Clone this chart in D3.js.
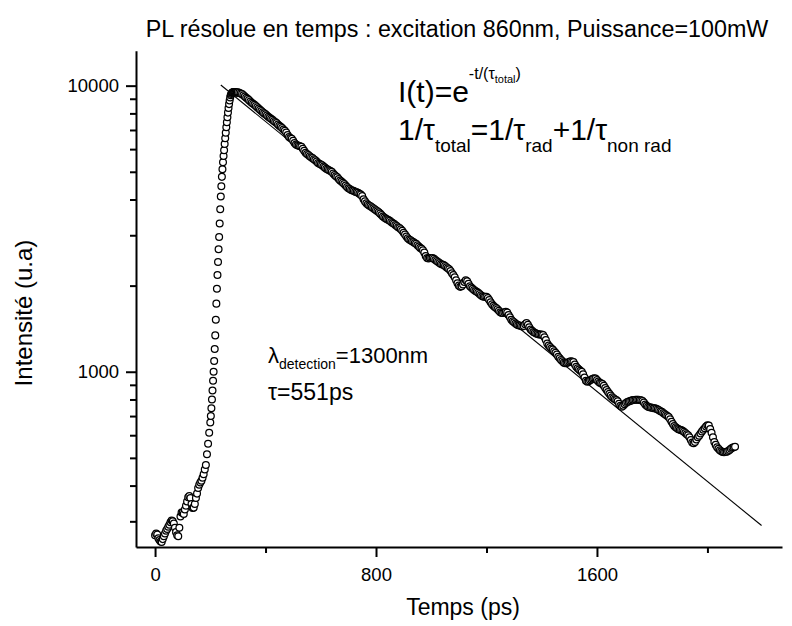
<!DOCTYPE html>
<html>
<head>
<meta charset="utf-8">
<script src="https://cdn.jsdelivr.net/npm/d3@7"></script>
<style>
  body { margin: 0; background: #fff; }
  svg { display: block; font-family: 'Liberation Sans', Arial, sans-serif; }
</style>
</head>
<body>
<svg id="chart" width="792" height="626"></svg>
<script>
/* global d3 */

// PL decay, three sampling segments (ps, u.a)
const earlyStart = 0
const earlyStep = 4
const earlyValues = [
  268, 272, 270, 262, 258, 255, 254, 260, 266, 272,
  278, 282, 287, 292, 298, 302, 300, 295, 285, 275,
  268, 266, 285, 312, 322, 322, 318, 330, 340, 352,
  364, 368, 362, 345, 334, 335, 345, 362, 375, 392,
  403, 410, 416, 426, 438, 455, 472, 515, 560, 612
]

const riseStart = 200
const riseStep = 2
const riseValues = [
  665, 700, 745, 800, 860, 930, 1000, 1090, 1200, 1340,
  1520, 1730, 1950, 2180, 2420, 2680, 2960, 3300, 3700, 4100,
  4450, 4800, 5100, 5400, 5680, 5950, 6250, 6550, 6850, 7150,
  7450, 7750, 8050, 8350, 8620, 8880, 9100, 9250, 9350, 9420,
  9460, 9490, 9500, 9510, 9510, 9500, 9490, 9480, 9470, 9450
]

const decayStart = 300
const decayStep = 5
const decayValues = [
  9490, 9450, 9390, 9340, 9250, 9160, 9080, 9000, 8900, 8800, 8710, 8640, 8570, 8490, 8400, 8320, 8230, 8150, 8070, 8000,
  7940, 7870, 7790, 7720, 7660, 7600, 7530, 7470, 7400, 7320, 7240, 7180, 7110, 7030, 6950, 6860, 6720, 6620, 6560, 6520,
  6420, 6300, 6230, 6190, 6170, 6140, 6110, 6020, 5920, 5830, 5770, 5720, 5670, 5620, 5580, 5530, 5490, 5430, 5370, 5330,
  5300, 5270, 5220, 5170, 5120, 5090, 5060, 5030, 5000, 4930, 4870, 4820, 4780, 4720, 4660, 4620, 4580, 4530, 4480, 4420,
  4380, 4350, 4320, 4300, 4280, 4260, 4240, 4220, 4190, 4160, 4110, 4010, 3940, 3880, 3840, 3810, 3790, 3760, 3730, 3700,
  3670, 3640, 3610, 3570, 3530, 3490, 3460, 3430, 3410, 3390, 3370, 3340, 3310, 3290, 3260, 3230, 3200, 3180, 3150, 3110,
  3060, 3020, 2970, 2930, 2900, 2880, 2860, 2840, 2820, 2800, 2770, 2740, 2710, 2690, 2660, 2610, 2540, 2500, 2490, 2500,
  2500, 2500, 2480, 2460, 2440, 2420, 2400, 2380, 2370, 2360, 2340, 2320, 2300, 2280, 2250, 2210, 2180, 2140, 2090, 2040,
  2000, 1980, 1990, 2020, 2060, 2090, 2070, 2030, 1990, 1970, 1950, 1930, 1915, 1905, 1890, 1870, 1850, 1835, 1830, 1830,
  1830, 1810, 1780, 1750, 1720, 1700, 1685, 1670, 1655, 1635, 1615, 1605, 1605, 1615, 1620, 1610, 1580, 1550, 1520, 1500,
  1490, 1475, 1462, 1455, 1450, 1445, 1440, 1445, 1465, 1480, 1460, 1430, 1405, 1390, 1378, 1368, 1360, 1355, 1350, 1350,
  1348, 1344, 1320, 1290, 1255, 1235, 1220, 1205, 1195, 1180, 1165, 1148, 1128, 1115, 1100, 1088, 1076, 1070, 1072, 1078,
  1084, 1088, 1086, 1082, 1060, 1040, 1028, 1018, 1008, 1000, 980, 955, 930, 922, 926, 934, 940, 945, 948, 946,
  935, 925, 915, 911, 905, 893, 878, 863, 850, 838, 825, 815, 808, 802, 797, 788, 772, 760, 755, 760,
  770, 778, 784, 787, 790, 793, 796, 797, 798, 798, 798, 797, 795, 790, 780, 768, 760, 755, 752, 750,
  748, 746, 745, 742, 738, 733, 728, 724, 718, 712, 706, 700, 694, 682, 668, 656, 646, 640, 634, 630,
  627, 625, 622, 617, 611, 605, 600, 590, 577, 566, 562, 568, 580, 590, 598, 608, 618, 627, 635, 643,
  650, 648, 630, 612, 590, 568, 555, 545, 538, 532, 527, 524, 523, 524, 525, 528, 533, 538, 542, 545,
  547
]

// single exponential fit, tau = 551 ps (straight on the log axis)
const fitTimes = [238, 2196]
const fitValues = [10050, 290]

const xTicks = [0, 800, 1600]
const xMinorTicks = [400, 1200, 2000]
const yTicks = [1000, 10000]
const yMinorTicks = [300, 400, 500, 600, 700, 800, 900, 2000, 3000, 4000, 5000, 6000, 7000, 8000, 9000]

function segment (start, step, values) {
  return values.map((v, i) => ({ t: start + i * step, v }))
}

const points = []
  .concat(segment(earlyStart, earlyStep, earlyValues))
  .concat(segment(riseStart, riseStep, riseValues))
  .concat(segment(decayStart, decayStep, decayValues))

const svg = d3.select('#chart')

const x = d3.scaleLinear()
  .domain([-69, 2270])
  .range([136, 782])

const y = d3.scaleLog()
  .domain([244, 13250])
  .range([547, 50.7])

// fit line goes under the markers
svg.append('path')
  .datum(fitTimes.map((t, i) => [t, fitValues[i]]))
  .attr('fill', 'none')
  .attr('stroke', '#000')
  .attr('stroke-width', 1.1)
  .attr('d', d3.line().x(d => x(d[0])).y(d => y(d[1])))

svg.append('g')
  .selectAll('circle')
  .data(points)
  .join('circle')
  .attr('cx', d => x(d.t))
  .attr('cy', d => y(d.v))
  .attr('r', 3.4)
  .attr('fill', '#fff')
  .attr('stroke', '#000')
  .attr('stroke-width', 1.25)

// axes
const xAxis = svg.append('g')
  .attr('transform', 'translate(0,547)')
  .call(d3.axisBottom(x).tickValues(xTicks).tickSize(10).tickSizeOuter(0).tickPadding(11).tickFormat(d3.format('d')))
svg.append('g')
  .attr('transform', 'translate(0,547)')
  .call(d3.axisBottom(x).tickValues(xMinorTicks).tickSize(6).tickFormat(''))
  .call(g => g.select('.domain').remove())

const yAxis = svg.append('g')
  .attr('transform', 'translate(136,0)')
  .call(d3.axisLeft(y).tickValues(yTicks).tickSize(10).tickSizeOuter(0).tickPadding(7).tickFormat(d3.format('d')))
svg.append('g')
  .attr('transform', 'translate(136,0)')
  .call(d3.axisLeft(y).tickValues(yMinorTicks).tickSize(6).tickFormat(''))
  .call(g => g.select('.domain').remove())

svg.selectAll('.domain, .tick line')
  .attr('stroke', '#000')
  .attr('stroke-width', 2)
xAxis.selectAll('text').attr('font-size', 18.5).attr('font-family', null).attr('fill', '#000')
yAxis.selectAll('text').attr('font-size', 18.5).attr('font-family', null).attr('fill', '#000')

// titles
svg.append('text')
  .attr('x', 457).attr('y', 37)
  .attr('text-anchor', 'middle')
  .attr('font-size', 23.3)
  .text('PL résolue en temps : excitation 860nm, Puissance=100mW')

svg.append('text')
  .attr('x', 463).attr('y', 615)
  .attr('text-anchor', 'middle')
  .attr('font-size', 23)
  .text('Temps (ps)')

svg.append('text')
  .attr('transform', 'translate(32,313) rotate(-90)')
  .attr('text-anchor', 'middle')
  .attr('font-size', 24)
  .text('Intensité (u.a)')

// annotations
function rich (px, py, parts) {
  const t = svg.append('text').attr('x', px).attr('y', py)
  parts.forEach(p => {
    t.append('tspan')
      .attr('font-size', p.size)
      .attr('dy', p.dy || 0)
      .text(p.text)
  })
  return t
}

rich(398, 102, [
  { text: 'I(t)=e', size: 30 },
  { text: '-t/(τ', size: 16, dy: -23 },
  { text: 'total', size: 11, dy: 4 },
  { text: ')', size: 16, dy: -4 }
])

rich(398, 140, [
  { text: '1/τ', size: 30 },
  { text: 'total', size: 19, dy: 12 },
  { text: '=1/τ', size: 30, dy: -12 },
  { text: 'rad', size: 19, dy: 12 },
  { text: '+1/τ', size: 30, dy: -12 },
  { text: 'non rad', size: 19, dy: 12 }
])

rich(268, 363, [
  { text: 'λ', size: 22 },
  { text: 'detection', size: 14, dy: 6 },
  { text: '=1300nm', size: 22, dy: -6 }
])

rich(268, 400, [
  { text: 'τ=551ps', size: 23 }
])
</script>
</body>
</html>
